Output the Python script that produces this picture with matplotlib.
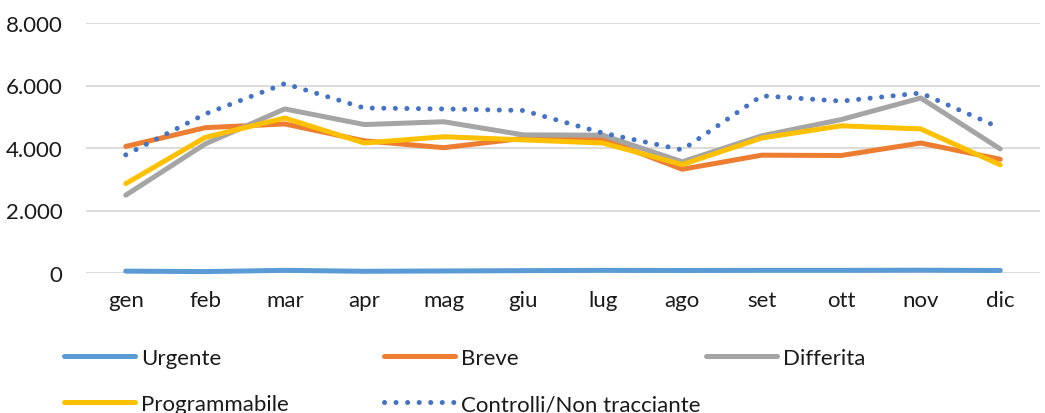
import matplotlib
matplotlib.use('Agg')
import matplotlib.pyplot as plt
from matplotlib.ticker import FuncFormatter

plt.rcParams['font.family'] = ['Lato', 'DejaVu Sans']

mesi = ['gen', 'feb', 'mar', 'apr', 'mag', 'giu', 'lug', 'ago', 'set', 'ott', 'nov', 'dic']

urgente = [60, 45, 85, 55, 65, 75, 85, 80, 85, 85, 90, 80]
breve = [4050, 4650, 4770, 4230, 4010, 4310, 4290, 3320, 3770, 3760, 4160, 3640]
differita = [2490, 4130, 5250, 4750, 4840, 4420, 4410, 3560, 4390, 4910, 5600, 3970]
programmabile = [2860, 4340, 4960, 4160, 4360, 4260, 4160, 3470, 4320, 4710, 4610, 3460]
controlli = [3780, 5090, 6060, 5280, 5250, 5200, 4480, 3940, 5670, 5500, 5760, 4640]

fig = plt.figure(figsize=(10.45, 4.14), dpi=100)
ax = fig.add_axes([86/1045, 1-274/414, (1040-86)/1045, 250/414])

x = range(len(mesi))
lw = 3.6
fs = 16
l1, = ax.plot(x, urgente, color='#5B9BD5', lw=lw, solid_capstyle='round', label='Urgente', clip_on=False)
l2, = ax.plot(x, breve, color='#ED7D31', lw=lw, solid_capstyle='round', label='Breve')
l3, = ax.plot(x, differita, color='#A5A5A5', lw=lw, solid_capstyle='round', label='Differita')
l4, = ax.plot(x, programmabile, color='#FFC000', lw=lw, solid_capstyle='round', label='Programmabile')
l5, = ax.plot(x, controlli, color='#4472C4', lw=lw, linestyle=(0, (0.01, 2.3)),
              dash_capstyle='round', label='Controlli/Non tracciante')

ax.set_xlim(-0.5, 11.5)
ax.set_ylim(0, 8000)
ax.set_yticks([0, 2000, 4000, 6000, 8000])
ax.yaxis.set_major_formatter(FuncFormatter(lambda v, p: f'{int(v):,}'.replace(',', '.')))
ax.set_xticks(list(x))
ax.set_xticklabels(mesi)
ax.grid(axis='y', color='#D9D9D9', lw=1.3)
ax.set_axisbelow(True)
for s in ax.spines.values():
    s.set_visible(False)
ax.tick_params(axis='both', length=0, labelsize=fs, colors='#1a1a1a')
ax.tick_params(axis='y', pad=17)
ax.tick_params(axis='x', pad=12)

# legenda in tre colonne a larghezza fissa, come in Excel
cols = [([l1, l4], 64), ([l2, l5], 384), ([l3], 706)]
for hs, px in cols:
    fig.legend(handles=hs, loc='upper left', bbox_to_anchor=(px/1045, 1-349/414),
               frameon=False, fontsize=fs, handlelength=3.2, handletextpad=0.25,
               labelspacing=1.18, borderpad=0, borderaxespad=0, labelcolor='#1a1a1a')

fig.savefig('out.png', dpi=100)
